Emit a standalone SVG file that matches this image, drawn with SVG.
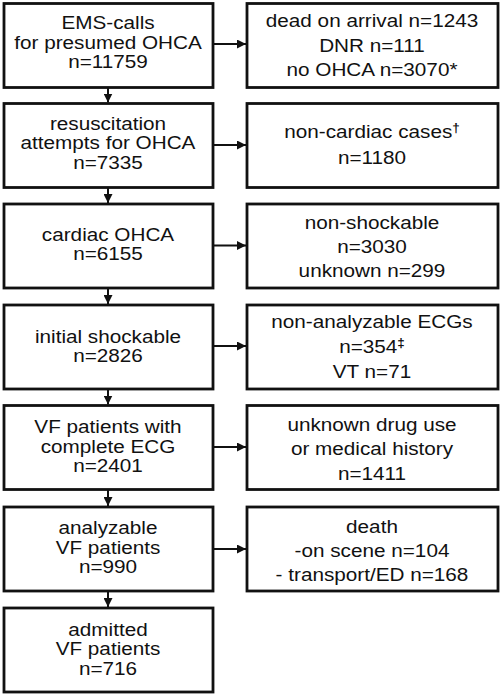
<svg xmlns="http://www.w3.org/2000/svg" width="501" height="695" viewBox="0 0 501 695">
<style>
.box{fill:#fff;stroke:#111;stroke-width:2.8}
.t{font-family:"Liberation Sans",Arial,sans-serif;font-size:18.5px;fill:#111;text-anchor:middle}
.c{stroke:#111;stroke-width:2;fill:none;marker-end:url(#ah)}
.sup{font-size:12px;font-weight:bold}
</style>
<defs>
<marker id="ah" markerUnits="userSpaceOnUse" markerWidth="10" markerHeight="9" refX="9" refY="4.5" orient="auto">
<path d="M0,0 L9,4.5 L0,9 z" fill="#111"/>
</marker>
</defs>
<rect width="501" height="695" fill="#fff"/>
<g id="connectors">
<line class="c" x1="108" y1="87.5" x2="108" y2="102.5"/>
<line class="c" x1="108" y1="187.5" x2="108" y2="203"/>
<line class="c" x1="108" y1="288" x2="108" y2="304"/>
<line class="c" x1="108" y1="389" x2="108" y2="404.5"/>
<line class="c" x1="108" y1="489.5" x2="108" y2="506"/>
<line class="c" x1="108" y1="591" x2="108" y2="607"/>
<line class="c" x1="213" y1="44" x2="246" y2="44"/>
<line class="c" x1="213" y1="145" x2="246" y2="145"/>
<line class="c" x1="213" y1="245.5" x2="246" y2="245.5"/>
<line class="c" x1="213" y1="346" x2="246" y2="346"/>
<line class="c" x1="213" y1="447" x2="246" y2="447"/>
<line class="c" x1="213" y1="549" x2="246" y2="549"/>
</g>
<g id="n1"><rect class="box" x="4" y="3.5" width="209" height="84"/>
<text class="t" transform="translate(108,0) scale(1.12,1)"><tspan x="0" y="29.5">EMS-calls</tspan><tspan x="0" y="49">for presumed OHCA</tspan><tspan x="0" y="68.5">n=11759</tspan></text></g>
<g id="n2"><rect class="box" x="4" y="103.5" width="209" height="84"/>
<text class="t" transform="translate(108,0) scale(1.12,1)"><tspan x="0" y="130">resuscitation</tspan><tspan x="0" y="149.5">attempts for OHCA</tspan><tspan x="0" y="169">n=7335</tspan></text></g>
<g id="n3"><rect class="box" x="4" y="204" width="209" height="84"/>
<text class="t" transform="translate(108,0) scale(1.12,1)"><tspan x="0" y="241">cardiac OHCA</tspan><tspan x="0" y="260.5">n=6155</tspan></text></g>
<g id="n4"><rect class="box" x="4" y="305" width="209" height="84"/>
<text class="t" transform="translate(108,0) scale(1.12,1)"><tspan x="0" y="343">initial shockable</tspan><tspan x="0" y="362.5">n=2826</tspan></text></g>
<g id="n5"><rect class="box" x="4" y="405.5" width="209" height="84"/>
<text class="t" transform="translate(108,0) scale(1.12,1)"><tspan x="0" y="433.5">VF patients with</tspan><tspan x="0" y="453">complete ECG</tspan><tspan x="0" y="472">n=2401</tspan></text></g>
<g id="n6"><rect class="box" x="4" y="507" width="209" height="84"/>
<text class="t" transform="translate(108,0) scale(1.12,1)"><tspan x="0" y="534">analyzable</tspan><tspan x="0" y="554">VF patients</tspan><tspan x="0" y="573.5">n=990</tspan></text></g>
<g id="n7"><rect class="box" x="4" y="608" width="209" height="84"/>
<text class="t" transform="translate(108,0) scale(1.12,1)"><tspan x="0" y="636">admitted</tspan><tspan x="0" y="655.5">VF patients</tspan><tspan x="0" y="675">n=716</tspan></text></g>
<g id="r1"><rect class="box" x="247" y="3.5" width="251" height="84"/>
<text class="t" transform="translate(372,0) scale(1.12,1)"><tspan x="0" y="27.5">dead on arrival n=1243</tspan><tspan x="0" y="52.5">DNR n=111</tspan><tspan x="0" y="76.5">no OHCA n=3070*</tspan></text></g>
<g id="r2"><rect class="box" x="247" y="103.5" width="251" height="84"/>
<text class="t" transform="translate(372,0) scale(1.12,1)"><tspan x="0" y="138.5">non-cardiac cases<tspan class="sup" dy="-6">†</tspan></tspan><tspan x="0" y="164">n=1180</tspan></text></g>
<g id="r3"><rect class="box" x="247" y="204" width="251" height="84"/>
<text class="t" transform="translate(372,0) scale(1.12,1)"><tspan x="0" y="229">non-shockable</tspan><tspan x="0" y="253.5">n=3030</tspan><tspan x="0" y="277.5">unknown n=299</tspan></text></g>
<g id="r4"><rect class="box" x="247" y="305" width="251" height="84"/>
<text class="t" transform="translate(372,0) scale(1.12,1)"><tspan x="0" y="328">non-analyzable ECGs</tspan><tspan x="0" y="353">n=354<tspan class="sup" dy="-6">‡</tspan></tspan><tspan x="0" y="378">VT n=71</tspan></text></g>
<g id="r5"><rect class="box" x="247" y="405.5" width="251" height="84"/>
<text class="t" transform="translate(372,0) scale(1.12,1)"><tspan x="0" y="431">unknown drug use</tspan><tspan x="0" y="455.5">or medical history</tspan><tspan x="0" y="480">n=1411</tspan></text></g>
<g id="r6"><rect class="box" x="247" y="507" width="251" height="84"/>
<text class="t" transform="translate(372,0) scale(1.12,1)"><tspan x="0" y="533">death</tspan><tspan x="0" y="557">-on scene n=104</tspan><tspan x="0" y="581">- transport/ED n=168</tspan></text></g>
</svg>
